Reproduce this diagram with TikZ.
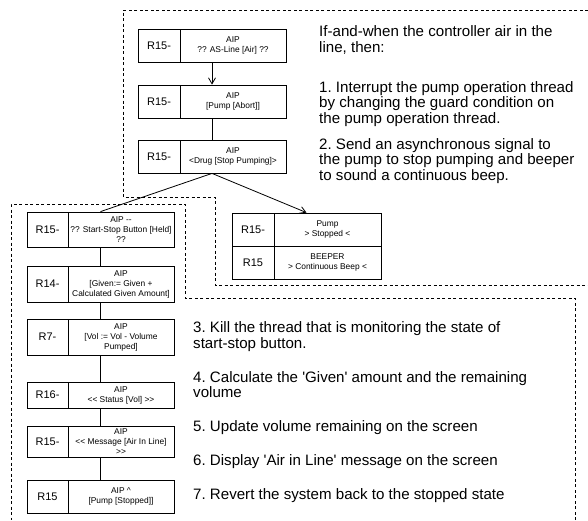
\documentclass[tikz,border=0pt]{standalone}
\usepackage{fontspec}
\setmainfont{Liberation Sans}
\usetikzlibrary{fit,arrows.meta}
\tikzset{
  cell/.style={draw, line width=0.8pt, inner sep=0pt},
  rlab/.style={font=\fontsize{11}{13}\selectfont, inner sep=0pt},
  ctext/.style={font=\fontsize{8.4}{10}\selectfont, align=center, inner sep=0pt},
  ln/.style={line width=0.8pt},
  tip/.style={-{Straight Barb[length=6pt,width=7pt]}},
  region/.style={line width=0.8pt, dash pattern=on 3pt off 2.5pt},
  txt/.style={font=\fontsize{15.1}{16}\selectfont\frenchspacing, anchor=base west, inner sep=0pt},
}
\newcommand{\mkbox}[8]{%
  \node[cell, fit={(#2,#3) (#4,#5)}] (#1) {};
  \draw[ln] (#6,#3) -- (#6,#5);
  \node[rlab] at ({(#2+#6)/2},{(#3+#5)/2}) {#7};
  \node[ctext] at ({(#6+#4)/2},{(#3+#5)/2}) {#8};
}
\begin{document}
\begin{tikzpicture}[x=1pt,y=-1pt]
\useasboundingbox (0,0) rectangle (588,520);
% regions
\draw[region] (588,10) -- (123,10) -- (123,197) -- (215,197) -- (215,285) -- (588,285);
\draw[region] (575,520) -- (575,298) -- (185,298) -- (185,204) -- (11,204) -- (11,520);
% top boxes
\mkbox{b1}{138}{29}{286}{62}{180}{R15-}{AIP\\?? AS-Line [Air] ??}
\mkbox{b2}{138}{85}{286}{118}{180}{R15-}{AIP\\{[Pump [Abort]]}}
\mkbox{b3}{138}{140}{286}{173}{180}{R15-}{AIP\\<Drug [Stop Pumping]>}
% pump / beeper
\mkbox{pump}{232}{213}{381}{246}{274}{R15-}{Pump\\> Stopped <}
\mkbox{beep}{232}{246}{381}{279}{274}{R15}{BEEPER\\> Continuous Beep <}
% left column
\mkbox{b4}{27}{212}{174}{247}{68}{R15-}{AIP -{}-\\?? Start-Stop Button [Held]\\??}
\mkbox{b5}{27}{266}{174}{302}{68}{R14-}{AIP\\{[Given:= Given +}\\Calculated Given Amount]}
\mkbox{b6}{27}{319}{174}{355}{68}{R7-}{AIP\\{[Vol := Vol - Volume}\\Pumped]}
\mkbox{b7}{27}{382}{174}{408}{68}{R16-}{AIP\\<{}< Status [Vol] >{}>}
\mkbox{b8}{27}{426}{174}{457}{68}{R15-}{AIP\\<{}< Message [Air In Line]\\>{}>}
\mkbox{b9}{27}{480}{174}{513}{68}{R15}{AIP \textasciicircum\\{[Pump [Stopped]]}}
% connectors
\draw[ln, tip] (b1) -- (b2);
\draw[ln] (b2) -- (b3);
\draw[ln] (b3.south) -- (b4.north);
\draw[ln, tip] (b3.south) -- (pump.north);
\draw[ln] (b4) -- (b5);
\draw[ln] (b5) -- (b6);
\draw[ln] (b6) -- (b7);
\draw[ln] (b7) -- (b8);
\draw[ln] (b8) -- (b9);
% upper text
\node[txt] (u1) at (319,36) {If-and-when the controller air in the};
\node[txt] (u2) at (319,52) {line, then:};
\node[txt] (u3) at (319,92) {1. Interrupt the pump operation thread};
\node[txt] (u4) at (319,107.5) {by changing the guard condition on};
\node[txt] (u5) at (319,123) {the pump operation thread.};
\node[txt] (u6) at (319,149) {2. Send an asynchronous signal to};
\node[txt] (u7) at (319,164.5) {the pump to stop pumping and beeper};
\node[txt] (u8) at (319,180) {to sound a continuous beep.};
% lower text
\node[txt] (l1) at (193,332.5) {3. Kill the thread that is monitoring the state of};
\node[txt] (l2) at (193,348) {start-stop button.};
\node[txt] (l3) at (193,382.5) {4. Calculate the \textquotesingle Given\textquotesingle\ amount and the remaining};
\node[txt] (l4) at (193,397.5) {volume};
\node[txt] (l5) at (193,431) {5. Update volume remaining on the screen};
\node[txt] (l6) at (193,465.5) {6. Display \textquotesingle Air in Line\textquotesingle\ message on the screen};
\node[txt] (l7) at (193,499) {7. Revert the system back to the stopped state};
\end{tikzpicture}
\end{document}
